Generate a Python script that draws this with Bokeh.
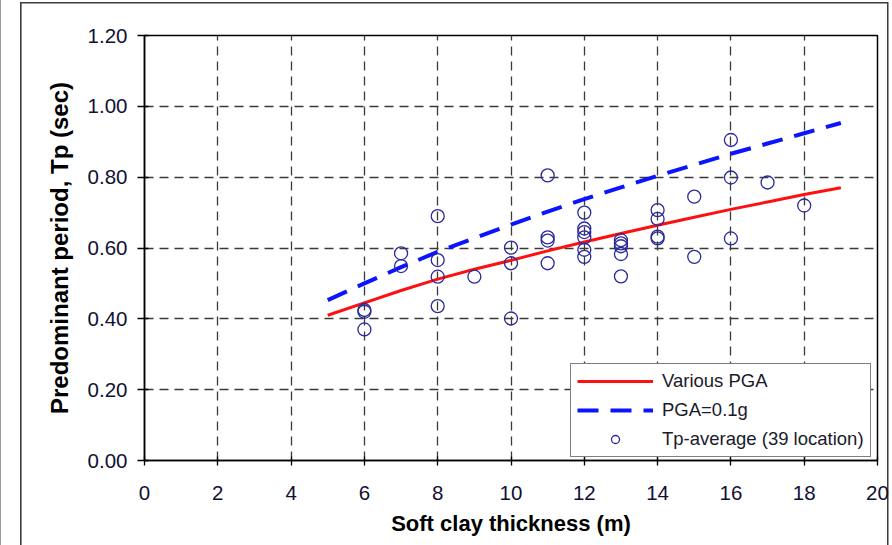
from bokeh.plotting import figure
from bokeh.models import (FixedTicker, NumeralTickFormatter, Legend, LegendItem,
                          ColumnDataSource)
from bokeh.embed import file_html
from bokeh.resources import INLINE

# ---- data ----
thickness = [6, 6, 6,
             7, 7,
             8, 8, 8, 8,
             9,
             10, 10, 10,
             11, 11, 11, 11,
             12, 12, 12, 12, 12, 12,
             13, 13, 13, 13, 13,
             14, 14, 14, 14,
             15, 15,
             16, 16, 16,
             17,
             18]
tp_average = [0.42, 0.425, 0.37,
              0.585, 0.549,
              0.69, 0.566, 0.519, 0.436,
              0.519,
              0.601, 0.557, 0.401,
              0.805, 0.630, 0.621, 0.557,
              0.70, 0.655, 0.645, 0.63, 0.595, 0.575,
              0.622, 0.613, 0.605, 0.583, 0.52,
              0.707, 0.682, 0.632, 0.627,
              0.745, 0.575,
              0.905, 0.799, 0.627,
              0.785,
              0.72]

h_curve = [5, 6, 7, 8, 9, 10, 11, 12, 13, 14, 15, 16, 17, 18, 19]
tp_various_pga = [0.41, 0.445, 0.48, 0.512, 0.54, 0.565, 0.592, 0.617, 0.641,
                  0.664, 0.687, 0.709, 0.73, 0.751, 0.77]
tp_pga_01 = [0.453, 0.50, 0.546, 0.589, 0.628, 0.666, 0.703, 0.738, 0.771,
             0.804, 0.835, 0.866, 0.895, 0.924, 0.953]

x_ticks = [0, 2, 4, 6, 8, 10, 12, 14, 16, 18, 20]
y_ticks = [0.0, 0.2, 0.4, 0.6, 0.8, 1.0, 1.2]

FONT = "Liberation Sans"

p = figure(width=892, height=545, x_range=(0, 20), y_range=(0, 1.2),
           output_backend="svg", toolbar_location=None,
           min_border_left=144, min_border_right=15,
           min_border_top=35, min_border_bottom=85)

# outer frame of the original figure, drawn as CSS background lines
p.border_fill_color = None
p.styles = {
    "background-color": "white",
    "background-image": ("linear-gradient(#3c3c3c,#3c3c3c), linear-gradient(#3c3c3c,#3c3c3c), "
                         "linear-gradient(#3c3c3c,#3c3c3c), linear-gradient(#9a9a9a,#9a9a9a)"),
    "background-position": "20px 2px, 20px 2px, 887px 2px, 0px 0px",
    "background-size": "1.6px 100%, 868px 1.5px, 1.5px 100%, 1.2px 100%",
    "background-repeat": "no-repeat",
}

p.outline_line_color = "black"
p.outline_line_width = 1.5

# grid
for g in (p.xgrid, p.ygrid):
    g.grid_line_color = "#3a3a3a"
    g.grid_line_width = 1.3
    g.grid_line_dash = "9 6"
p.xgrid.ticker = FixedTicker(ticks=x_ticks)
p.ygrid.ticker = FixedTicker(ticks=y_ticks)

# axes
p.xaxis.ticker = FixedTicker(ticks=x_ticks)
p.yaxis.ticker = FixedTicker(ticks=y_ticks)
p.yaxis.formatter = NumeralTickFormatter(format="0.00")
p.xaxis.axis_label = "Soft clay thickness (m)"
p.yaxis.axis_label = "Predominant period, Tp (sec)"
for ax in (p.xaxis, p.yaxis):
    ax.axis_line_color = "black"
    ax.axis_line_width = 1.5
    ax.major_tick_line_color = "black"
    ax.major_tick_line_width = 1.3
    ax.minor_tick_line_color = None
    ax.major_label_text_font = FONT
    ax.major_label_text_font_size = "20.5px"
    ax.major_label_text_color = "#111133"
    ax.axis_label_text_font = FONT
    ax.axis_label_text_font_style = "bold"
    ax.axis_label_text_color = "black"
p.xaxis.axis_label_text_font_size = "22px"
p.yaxis.axis_label_text_font_size = "24px"
p.xaxis.major_tick_out = 5
p.xaxis.major_tick_in = 4
p.yaxis.major_tick_out = 7
p.yaxis.major_tick_in = 4
p.xaxis.major_label_standoff = 20
p.yaxis.major_label_standoff = 10
p.xaxis.axis_label_standoff = 8
p.yaxis.axis_label_standoff = 12

# series
r_red = p.line(h_curve, tp_various_pga, line_color="#ff1010", line_width=3)
r_blue = p.line(h_curve, tp_pga_01, line_color="#0a14ff", line_width=4,
                line_dash="21 12")
src_pts = ColumnDataSource(data=dict(x=thickness, y=tp_average))
p.scatter("x", "y", source=src_pts, marker="circle", size=13,
          fill_color=None, line_color="#2a2a9a", line_width=1.3)
# legend proxy with a small marker (NaN position, not drawn in the plot)
nan = float("nan")
r_leg = p.scatter(x=[nan], y=[nan], marker="circle", size=7, fill_color=None,
                  line_color="#2a2a9a", line_width=1.3)

legend = Legend(items=[
    LegendItem(label="Various PGA", renderers=[r_red]),
    LegendItem(label="PGA=0.1g", renderers=[r_blue]),
    LegendItem(label="Tp-average (39 location)", renderers=[r_leg]),
], location=(426, 3))
legend.label_text_font = FONT
legend.label_text_font_size = "18.5px"
legend.label_text_color = "#1a1a2a"
legend.glyph_width = 76
legend.glyph_height = 20
legend.label_height = 20
legend.label_standoff = 9
legend.spacing = 7
legend.padding = 6
legend.margin = 0
legend.border_line_color = "black"
legend.border_line_width = 1.5
legend.background_fill_color = "white"
legend.background_fill_alpha = 1.0
p.add_layout(legend, "center")

open("out.html", "w").write(file_html(p, INLINE))
